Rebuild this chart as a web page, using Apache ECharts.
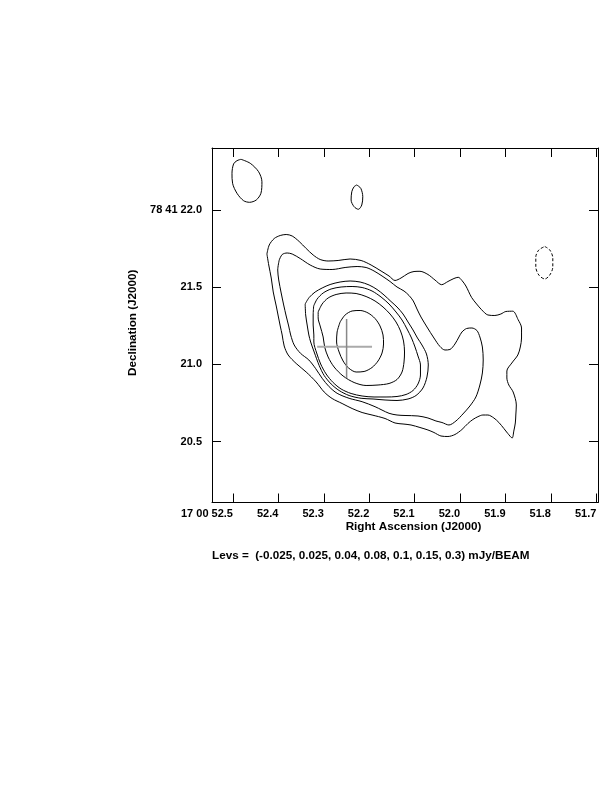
<!DOCTYPE html>
<html>
<head>
<meta charset="utf-8">
<script src="https://cdn.jsdelivr.net/npm/echarts@6/dist/echarts.min.js"></script>
<style>
html,body{margin:0;padding:0;background:#fff;}
#chart{width:612px;height:792px;}
</style>
</head>
<body>
<div id="chart"></div>
<script>
// ---- axis ranges and ticks (RA seconds of 17h00m, Dec arcsec of +78d41m) ----
const X_MIN = 51.6965, X_MAX = 52.5462;
const Y_MIN = 20.1049, Y_MAX = 22.4009;
const xTickValues = [52.5, 52.4, 52.3, 52.2, 52.1, 52.0, 51.9, 51.8, 51.7];
const xTickLabels = ['17 00 52.5', '52.4', '52.3', '52.2', '52.1', '52.0', '51.9', '51.8', '51.7'];
const yTickValues = [22.0, 21.5, 21.0, 20.5];
const yTickLabels = ['78 41 22.0', '21.5', '21.0', '20.5'];
const xTitle = 'Right Ascension (J2000)';
const yTitle = 'Declination (J2000)';
const levelsText = 'Levs =  (-0.025, 0.025, 0.04, 0.08, 0.1, 0.15, 0.3) mJy/BEAM';

// ---- contours [RA, Dec] ----
const contourNW = [[52.4824,22.3277],[52.4620,22.3018],[52.4437,22.2474],[52.4363,22.1826],[52.4385,22.1075],[52.4488,22.0641],[52.4635,22.0492],[52.4767,22.0596],[52.4912,22.1075],[52.5009,22.1723],[52.5022,22.2371],[52.4987,22.2973],[52.4912,22.3187],[52.4824,22.3277]];
const contourN = [[52.2275,22.1613],[52.2187,22.1399],[52.2143,22.0855],[52.2165,22.0317],[52.2240,22.0039],[52.2334,22.0207],[52.2400,22.0641],[52.2385,22.1179],[52.2334,22.1503],[52.2275,22.1613]];
const contourNeg = [[51.8136,21.7630],[51.8026,21.7403],[51.7960,21.6885],[51.7960,21.6302],[51.8026,21.5784],[51.8136,21.5525],[51.8268,21.5784],[51.8334,21.6302],[51.8334,21.6949],[51.8268,21.7403],[51.8136,21.7630]];
const contour025 = [[52.4253,21.7144],[52.4202,21.7727],[52.4092,21.8148],[52.3960,21.8342],[52.3829,21.8407],[52.3697,21.8310],[52.3543,21.7953],[52.3389,21.7500],[52.3235,21.7079],[52.3081,21.6788],[52.2906,21.6690],[52.2686,21.6723],[52.2422,21.6820],[52.2180,21.6723],[52.1960,21.6431],[52.1741,21.6043],[52.1565,21.5719],[52.1433,21.5428],[52.1301,21.5589],[52.1147,21.5881],[52.1015,21.6010],[52.0884,21.6023],[52.0708,21.5816],[52.0554,21.5460],[52.0407,21.5156],[52.0268,21.5363],[52.0136,21.5557],[52.0042,21.5635],[51.9960,21.5428],[51.9873,21.5071],[51.9747,21.4327],[51.9637,21.3906],[51.9528,21.3536],[51.9389,21.3193],[51.9235,21.3161],[51.9103,21.3258],[51.8993,21.3420],[51.8840,21.3439],[51.8723,21.2889],[51.8648,21.2351],[51.8648,21.1703],[51.8675,21.1121],[51.8730,21.0602],[51.8862,21.0084],[51.8971,20.9566],[51.8971,20.9113],[51.8928,20.8659],[51.8833,20.8206],[51.8763,20.7364],[51.8774,20.6716],[51.8785,20.6198],[51.8818,20.5680],[51.8855,20.5227],[51.8950,20.5518],[51.9037,20.5842],[51.9147,20.6231],[51.9257,20.6522],[51.9389,20.6716],[51.9499,20.6716],[51.9609,20.6606],[51.9719,20.6425],[51.9829,20.6166],[51.9960,20.5777],[52.0114,20.5453],[52.0268,20.5324],[52.0422,20.5356],[52.0576,20.5583],[52.0708,20.5745],[52.0884,20.5907],[52.1081,20.6069],[52.1257,20.6134],[52.1433,20.6198],[52.1653,20.6490],[52.1939,20.6716],[52.2158,20.6878],[52.2378,20.7137],[52.2598,20.7461],[52.2818,20.7785],[52.2993,20.8206],[52.3169,20.8854],[52.3389,20.9501],[52.3609,21.0052],[52.3785,21.0602],[52.3873,21.1185],[52.3917,21.1898],[52.3960,21.2481],[52.4004,21.3128],[52.4048,21.3776],[52.4114,21.4683],[52.4158,21.5589],[52.4213,21.6431],[52.4253,21.7144]];
const contour04 = [[52.3982,21.6755],[52.3917,21.7111],[52.3807,21.7209],[52.3697,21.7144],[52.3521,21.6852],[52.3301,21.6431],[52.3081,21.6172],[52.2818,21.6140],[52.2532,21.6270],[52.2268,21.6334],[52.2070,21.6270],[52.1895,21.6043],[52.1719,21.5719],[52.1543,21.5363],[52.1389,21.5006],[52.1235,21.4747],[52.1125,21.4456],[52.1031,21.4100],[52.0950,21.3582],[52.0862,21.3064],[52.0730,21.2416],[52.0576,21.1703],[52.0444,21.1153],[52.0334,21.0926],[52.0224,21.0959],[52.0114,21.1315],[52.0026,21.1768],[51.9960,21.2092],[51.9857,21.2319],[51.9741,21.2351],[51.9631,21.2189],[51.9565,21.1768],[51.9510,21.1121],[51.9492,21.0279],[51.9510,20.9437],[51.9565,20.8659],[51.9653,20.7882],[51.9785,20.7299],[51.9939,20.6781],[52.0092,20.6328],[52.0246,20.6069],[52.0400,20.6231],[52.0532,20.6328],[52.0708,20.6522],[52.0928,20.6652],[52.1213,20.6684],[52.1389,20.6716],[52.1565,20.6826],[52.1873,20.7254],[52.2158,20.7578],[52.2444,20.7798],[52.2708,20.8122],[52.2884,20.8549],[52.3037,20.9093],[52.3185,20.9741],[52.3330,21.0279],[52.3514,21.0712],[52.3653,21.1250],[52.3730,21.1898],[52.3774,21.2481],[52.3829,21.3128],[52.3884,21.3841],[52.3939,21.4618],[52.3993,21.5460],[52.4015,21.6108],[52.3982,21.6755]];
const contour08 = [[52.3411,21.3906],[52.3323,21.4327],[52.3191,21.4683],[52.3037,21.4942],[52.2862,21.5168],[52.2642,21.5330],[52.2422,21.5395],[52.2202,21.5330],[52.2004,21.5136],[52.1829,21.4845],[52.1675,21.4488],[52.1521,21.4067],[52.1389,21.3711],[52.1257,21.3258],[52.1147,21.2740],[52.1037,21.2222],[52.0939,21.1703],[52.0840,21.1250],[52.0741,21.0667],[52.0701,20.9955],[52.0730,20.9178],[52.0818,20.8465],[52.0971,20.7979],[52.1147,20.7753],[52.1389,20.7656],[52.1653,20.7688],[52.1917,20.7753],[52.2180,20.7798],[52.2444,20.7979],[52.2664,20.8303],[52.2840,20.8724],[52.2993,20.9275],[52.3103,20.9922],[52.3213,21.0797],[52.3290,21.1444],[52.3330,21.1898],[52.3367,21.2545],[52.3400,21.3193],[52.3411,21.3906]];
const contour10 = [[52.3224,21.3776],[52.3147,21.4229],[52.3015,21.4618],[52.2840,21.4877],[52.2620,21.5006],[52.2378,21.5039],[52.2158,21.4974],[52.1939,21.4747],[52.1741,21.4359],[52.1565,21.3906],[52.1411,21.3387],[52.1279,21.2869],[52.1169,21.2286],[52.1070,21.1703],[52.0993,21.1121],[52.0928,21.0538],[52.0873,20.9955],[52.0873,20.9307],[52.0928,20.8724],[52.1037,20.8303],[52.1191,20.8044],[52.1389,20.7915],[52.1631,20.7882],[52.1895,20.7882],[52.2158,20.7947],[52.2400,20.8109],[52.2620,20.8400],[52.2796,20.8821],[52.2950,20.9372],[52.3070,21.0019],[52.3158,21.0732],[52.3220,21.1444],[52.3220,21.1898],[52.3235,21.2545],[52.3235,21.3193],[52.3224,21.3776]];
const contour15 = [[52.3125,21.3387],[52.3037,21.3906],[52.2906,21.4294],[52.2730,21.4521],[52.2510,21.4618],[52.2290,21.4586],[52.2070,21.4391],[52.1873,21.4100],[52.1697,21.3711],[52.1543,21.3258],[52.1411,21.2740],[52.1312,21.2157],[52.1246,21.1509],[52.1224,21.0797],[52.1235,21.0149],[52.1279,20.9501],[52.1389,20.9016],[52.1565,20.8757],[52.1807,20.8659],[52.2070,20.8627],[52.2334,20.8821],[52.2576,20.9242],[52.2774,20.9825],[52.2906,21.0473],[52.2982,21.1121],[52.3015,21.1768],[52.3081,21.2481],[52.3125,21.2999],[52.3125,21.3387]];
const contour30 = [[52.2642,21.2740],[52.2532,21.3193],[52.2378,21.3452],[52.2202,21.3485],[52.2026,21.3323],[52.1873,21.2966],[52.1763,21.2481],[52.1697,21.1898],[52.1686,21.1315],[52.1719,21.0732],[52.1807,21.0214],[52.1939,20.9793],[52.2114,20.9534],[52.2290,20.9501],[52.2455,20.9760],[52.2576,21.0214],[52.2664,21.0797],[52.2719,21.1444],[52.2708,21.2092],[52.2642,21.2740]];
// ---- position cross ----
const crossH = [[52.3147,21.114],[52.1939,21.114]];
const crossV = [[52.2499,21.2934],[52.2499,20.9093]];

const FONT = '"Liberation Sans", Arial, sans-serif';
function lookup(vals, labels, v) {
  const i = vals.findIndex(t => Math.abs(t - v) < 1e-6);
  return i >= 0 ? labels[i] : '';
}
function xAxisCfg(pos, labels) {
  const a = {
    type: 'value', position: pos, inverse: true, min: X_MIN, max: X_MAX,
    axisLine: {show: true, onZero: false, lineStyle: {color: '#000', width: 1}},
    axisTick: {show: true, inside: true, length: 9, customValues: xTickValues, lineStyle: {color: '#000', width: 1}},
    axisLabel: {show: labels, customValues: xTickValues, formatter: v => lookup(xTickValues, xTickLabels, v),
      align: 'right', margin: 6, fontFamily: FONT, fontWeight: 'bold', fontSize: 11, color: '#000'},
    splitLine: {show: false}
  };
  if (labels) {
    a.name = xTitle; a.nameLocation = 'middle'; a.nameGap = 10;
    a.nameTextStyle = {fontFamily: FONT, fontWeight: 'bold', fontSize: 11.7, color: '#000', padding: [0, 0, 0, 17]};
  }
  return a;
}
function yAxisCfg(pos, labels) {
  const a = {
    type: 'value', position: pos, min: Y_MIN, max: Y_MAX,
    axisLine: {show: true, onZero: false, lineStyle: {color: '#000', width: 1}},
    axisTick: {show: true, inside: true, length: 9, customValues: yTickValues, lineStyle: {color: '#000', width: 1}},
    axisLabel: {show: labels, customValues: yTickValues, formatter: v => lookup(yTickValues, yTickLabels, v),
      margin: 10, padding: [3, 0, 0, 0], fontFamily: FONT, fontWeight: 'bold', fontSize: 11, color: '#000'},
    splitLine: {show: false}
  };
  if (labels) {
    a.name = yTitle; a.nameLocation = 'middle'; a.nameGap = 62; a.nameRotate = 90;
    a.nameTextStyle = {fontFamily: FONT, fontWeight: 'bold', fontSize: 11.7, color: '#000', padding: [0, 0, 0, 5]};
  }
  return a;
}
function contour(data, dashed) {
  return {type: 'line', data: data, symbol: 'none', showSymbol: false, smooth: 0.3, silent: true, z: 3,
    lineStyle: {color: '#000', width: 1, type: dashed ? [3, 2] : 'solid'}};
}
function crossLine(data, color, width) {
  return {type: 'line', data: data, symbol: 'none', showSymbol: false, silent: true, z: 4,
    lineStyle: {color: color, width: width}};
}

const chart = echarts.init(document.getElementById('chart'), null, {renderer: 'canvas'});
chart.setOption({
  animation: false,
  backgroundColor: '#fff',
  grid: {left: 212, right: 14, top: 148, bottom: 289.5, show: false},
  xAxis: [xAxisCfg('bottom', true), xAxisCfg('top', false)],
  yAxis: [yAxisCfg('left', true), yAxisCfg('right', false)],
  graphic: [{
    type: 'text', left: 212, top: 550,
    style: {text: levelsText, font: 'bold 11.7px ' + FONT, fill: '#000'}
  }],
  series: [
    contour(contourNW, false),
    contour(contourN, false),
    contour(contourNeg, true),
    contour(contour025, false),
    contour(contour04, false),
    contour(contour08, false),
    contour(contour10, false),
    contour(contour15, false),
    contour(contour30, false),
    crossLine(crossH, '#aaaaaa', 2),
    crossLine(crossV, '#888888', 1.5)
  ]
});
</script>
</body>
</html>
